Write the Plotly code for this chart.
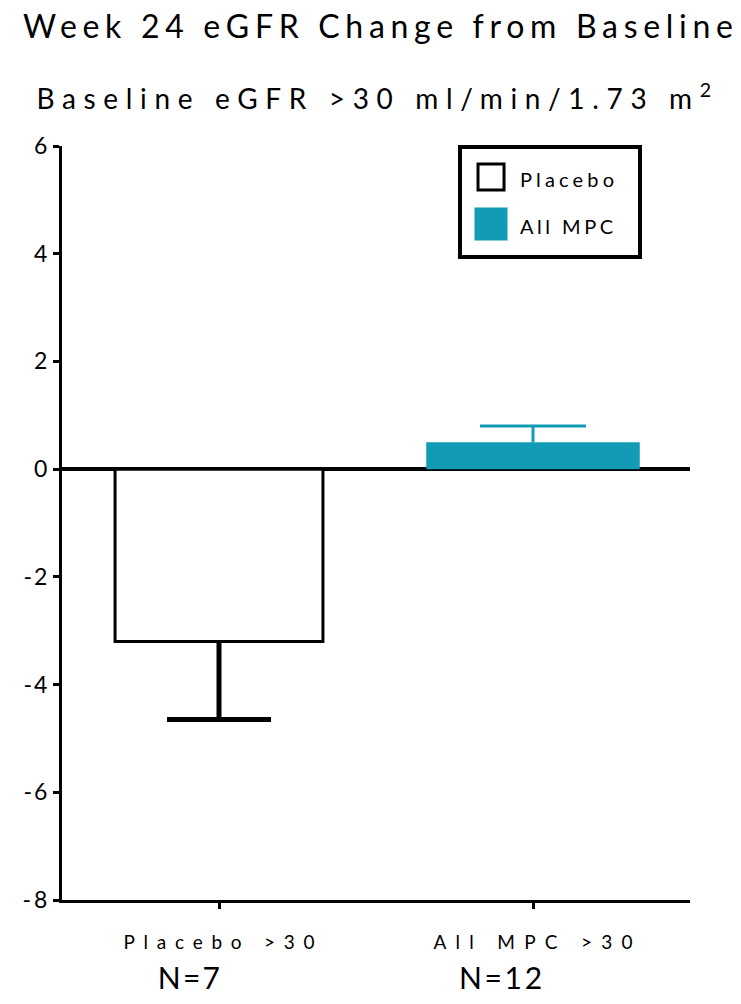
import json
import plotly.graph_objects as go

# ---- data ----
categories = ["Placebo >30", "All MPC >30"]
series_names = ["Placebo", "All MPC"]
means = [-3.2, 0.5]
err_plus = [0.0, 0.3]
err_minus = [1.45, 0.0]
n_labels = ["N=7", "N=12"]
y_tick_vals = [-8, -6, -4, -2, 0, 2, 4, 6]
y_tick_labels = ["-8", "-6", "-4", "-2", "0", "2", "4", "6"]
title_line1 = "Week 24 eGFR Change from Baseline"
title_line2 = "Baseline eGFR >30 ml/min/1.73 m<sup>2</sup>"

FONT = "Lato, 'Open Sans', sans-serif"
TEAL = "#129BB5"

fills = ["white", TEAL]
edge_colors = ["black", TEAL]
edge_widths = [3, 0]
err_colors = ["black", TEAL]
err_thick = [5, 3]
err_caps = [52, 53]
bar_widths = [0.662, 0.68]
n_shifts = [-30, -33]

fig = go.Figure()
for i in range(2):
    fig.add_trace(go.Bar(
        x=[categories[i]], y=[means[i]], name=series_names[i],
        width=[bar_widths[i]],
        legendgroup=series_names[i],
        marker=dict(color=fills[i], line=dict(color=edge_colors[i], width=edge_widths[i])),
        error_y=dict(type="data", symmetric=False, array=[err_plus[i]],
                     arrayminus=[err_minus[i]], color=err_colors[i],
                     thickness=err_thick[i], width=err_caps[i]),
    ))

for i in range(2):
    fig.add_annotation(x=categories[i], y=-0.102, xref="x", yref="paper",
                       text=n_labels[i], showarrow=False, xshift=n_shifts[i],
                       yanchor="middle", font=dict(family=FONT, size=30, color="black"))

fig.add_annotation(x=0.497, y=1.065, xref="paper", yref="paper", text=title_line2,
                   showarrow=False, yanchor="middle", xanchor="center",
                   font=dict(family=FONT, size=28, color="black"))

fig.update_layout(
    width=741, height=1004,
    margin=dict(l=62, r=51, t=146, b=104),
    paper_bgcolor="white", plot_bgcolor="white",
    barmode="overlay",
    title=dict(text=title_line1, x=0.51, y=0.973, xanchor="center", yanchor="middle",
               font=dict(family=FONT, size=32, color="black")),
    font=dict(family=FONT, color="black"),
    showlegend=True,
    legend=dict(x=0.6306, y=1.0013, xanchor="left", yanchor="top",
                bordercolor="black", borderwidth=4, bgcolor="white",
                font=dict(family=FONT, size=20, color="black"),
                tracegroupgap=18, itemwidth=48),
    xaxis=dict(range=[-0.5, 1.5], showline=True, linecolor="black", linewidth=3,
               ticks="outside", ticklen=6, tickwidth=3, tickcolor="black",
               showgrid=False, zeroline=False, ticklabelstandoff=17,
               tickfont=dict(family=FONT, size=19, color="black")),
    yaxis=dict(range=[-8, 6], tickvals=y_tick_vals, ticktext=y_tick_labels,
               showline=True, linecolor="black", linewidth=3,
               ticks="outside", ticklen=6, tickwidth=3, tickcolor="black",
               showgrid=False, zeroline=True, zerolinecolor="black", zerolinewidth=4,
               ticklabelstandoff=1,
               tickfont=dict(family=FONT, size=23, color="black")),
)

# target visible text widths (px) to reproduce the wide letter spacing of the original
targets = {
    "Week 24 eGFR Change from Baseline": 710,
    "Baseline eGFR >30 ml/min/1.73 m2": 690,
    "Placebo >30": 191,
    "All MPC >30": 199,
    "Placebo": 94,
    "All MPC": 93,
    "N=7": 62,
    "N=12": 83,
    "-2": 24, "-4": 24, "-6": 24, "-8": 25,
}
# which error-bar cap sits on the bar end (one-sided bars in the original)
hide_caps = ["top" if err_plus[i] == 0 else ("bottom" if err_minus[i] == 0 else "none")
             for i in range(2)]

post = """
document.body.style.margin = '0';
var gd = document.getElementById('{plot_id}');
var targets = """ + json.dumps(targets) + """;
var hideCaps = """ + json.dumps(hide_caps) + """;
gd.querySelectorAll('text').forEach(function(t){
  var s = t.textContent.replace(/\\u200b/g, '');
  if (!(s in targets)) return;
  var n = t.textContent.length;
  t.style.letterSpacing = '0px';
  var w = t.getComputedTextLength();
  var ls = (targets[s] - w) / (n - 1);
  if (ls <= 0) return;
  t.style.letterSpacing = ls + 'px';
  var anchor = t.getAttribute('text-anchor') || window.getComputedStyle(t).textAnchor || 'start';
  var shift = anchor === 'end' ? ls : (anchor === 'middle' ? ls / 2 : 0);
  if (shift) t.setAttribute('transform', (t.getAttribute('transform') || '') + ' translate(' + shift + ',0)');
});
// one-sided error bars: drop the cap lying on the bar end
var num = '(-?[0-9.eE+-]+)';
var re = new RegExp('^M' + num + ',' + num + 'h' + num + 'm-' + num + ',0V' + num + 'm-' + num + ',0h' + num + '$');
gd.querySelectorAll('.barlayer g.trace').forEach(function(tr, i){
  var mode = hideCaps[i];
  if (!mode || mode === 'none') return;
  tr.querySelectorAll('path.yerror').forEach(function(p){
    var d = (p.getAttribute('d') || '').replace(/\\s+/g, '');
    var m = d.match(re);
    if (!m) return;
    var x0 = +m[1], yh = +m[2], w2 = +m[3], w = w2 / 2, ys = +m[5];
    var xc = x0 + w;
    var nd;
    if (mode === 'top') {
      nd = 'M' + xc + ',' + yh + 'V' + ys + 'M' + x0 + ',' + ys + 'h' + w2;
    } else {
      nd = 'M' + x0 + ',' + yh + 'h' + w2 + 'M' + xc + ',' + yh + 'V' + ys;
    }
    p.setAttribute('d', nd);
  });
});
var lg = gd.querySelector('.legend');
if (lg) {
  var dw = 41, dh = 20, dy = 11;
  var grow = function(r){
    r.setAttribute('width', (+r.getAttribute('width')) + dw);
    r.setAttribute('height', (+r.getAttribute('height')) + dh);
  };
  lg.querySelectorAll('rect.bg').forEach(grow);
  document.querySelectorAll('clipPath[id^="legend"] rect').forEach(grow);
  lg.querySelectorAll('g.traces').forEach(function(g){
    g.setAttribute('transform', (g.getAttribute('transform') || '') + ' translate(0,' + dy + ')');
  });
  var sizes = [13, 16.5];
  var k = 0;
  lg.querySelectorAll('g.legendpoints path').forEach(function(p){
    var d = (p.getAttribute('d') || '').replace(/\\s+/g, '');
    if (d.indexOf('M6,6H-6V-6H6Z') !== 0) return;
    var h = sizes[k] || 13;
    p.setAttribute('d', 'M' + h + ',' + h + 'H-' + h + 'V-' + h + 'H' + h + 'Z');
    p.setAttribute('transform', (p.getAttribute('transform') || '') + ' translate(0,-2.5)');
    if (k === 0) p.style.strokeWidth = '3px';
    k += 1;
  });
}
"""

fig.write_html("out.html", post_script=post, config={"displayModeBar": False})
